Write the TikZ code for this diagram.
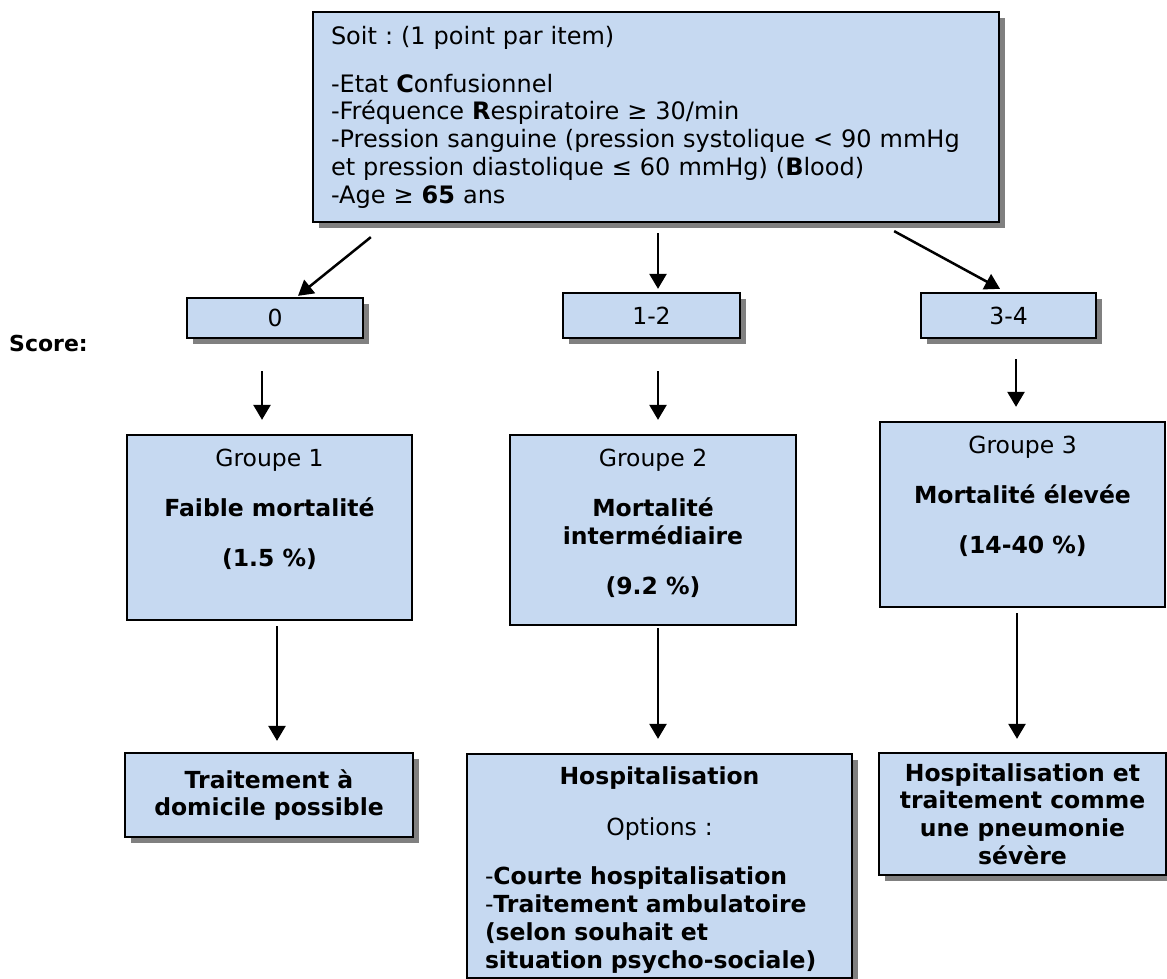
\documentclass[tikz,border=0pt]{standalone}
\usepackage{fontspec}
\setmainfont{DejaVu Sans}
\usepackage{xcolor}
\usepackage{tikz}
\usetikzlibrary{arrows.meta, shadows}
\definecolor{boxblue}{HTML}{C6D9F1}
\definecolor{shadowgray}{HTML}{808080}
\frenchspacing

\begin{document}
\begin{tikzpicture}[x=1pt, y=-1pt,
    every node/.style={font=\fontsize{23.5}{27.7}\selectfont},
    box/.style={draw, fill=boxblue, line width=2.3pt},
    shadowed/.style={drop shadow={shadow xshift=6pt, shadow yshift=-6pt, fill=shadowgray, opacity=1}},
    critbox/.style={box, shadowed, text width=650pt, inner xsep=18pt, inner ysep=0pt, minimum height=210pt, align=left, font=\fontsize{24}{27.7}\selectfont},
    scorebox/.style={box, shadowed, minimum width=176pt, minimum height=45pt},
    groupbox/.style={box, inner sep=0pt},
    outcomebox/.style={box, shadowed, align=center, font=\fontsize{23.5}{27.7}\selectfont\bfseries},
    arr/.style={line width=2.5pt, -{Triangle[length=15pt, width=17pt]}}
]
\useasboundingbox (0,0) rectangle (1167,979);

% criteres CRB-65
\node[critbox] (crit) at (656,117) {
    Soit : (1 point par item)\\[20.3pt]
    -Etat \textbf{C}onfusionnel\\
    -Fréquence \textbf{R}espiratoire ≥ 30/min\\
    -Pression sanguine (pression systolique < 90 mmHg\\
    et pression diastolique ≤ 60 mmHg) (\textbf{B}lood)\\
    -Age ≥ \textbf{65} ans
};

% scores
\node[font=\fontsize{22}{26}\selectfont\bfseries, anchor=west, inner sep=0pt] (scorelbl) at (9,343) {Score:};
\node[scorebox, minimum height=40pt] (s0) at (275,318) {0};
\node[scorebox, minimum width=177pt] (s12) at (651.5,315.5) {1-2};
\node[scorebox, minimum width=175pt] (s34) at (1008.5,315.5) {3-4};

% groupes
\node[groupbox] (g1) at (269.5,527.5) {\parbox[c][185pt][t]{285pt}{\centering\rule{0pt}{31.5pt}Groupe 1\\[22.3pt]
    \textbf{Faible mortalité}\\[22.3pt]\textbf{(1.5 \%)}}};
\node[groupbox] (g2) at (653,530) {\parbox[c][190pt][t]{286pt}{\centering\rule{0pt}{31.5pt}Groupe 2\\[22.3pt]
    \textbf{Mortalité}\\\textbf{intermédiaire}\\[22.3pt]\textbf{(9.2 \%)}}};
\node[groupbox] (g3) at (1022.5,514.5) {\parbox[c][185pt][t]{285pt}{\centering\rule{0pt}{31.5pt}Groupe 3\\[22.3pt]
    \textbf{Mortalité élevée}\\[22.3pt]\textbf{(14-40 \%)}}};

% prise en charge
\node[outcomebox, minimum width=288pt, minimum height=84pt] (b1) at (269,795) {Traitement à\\domicile possible};
\node[box, shadowed, text width=349pt, inner xsep=18pt, minimum height=224pt] (b2) at (659.5,866) {
    \centering\rule{0pt}{26pt}\textbf{Hospitalisation}\\[23.3pt]Options :\par
    \raggedright\vspace{21.3pt}
    -\textbf{Courte hospitalisation}\\
    -\textbf{Traitement ambulatoire}\\
    \textbf{(selon souhait et}\\
    \textbf{situation psycho-sociale)}
};
\node[outcomebox, minimum width=287pt, minimum height=122pt] (b3) at (1022.5,814) {Hospitalisation et\\traitement comme\\une pneumonie\\sévère};

% fleches
\draw[arr] ([xshift=59pt, yshift=-14pt]crit.south west) -- ([xshift=23pt, yshift=1pt]s0.north);
\draw[arr] ([xshift=2pt, yshift=-10pt]crit.south) -- ([xshift=6.5pt, yshift=3pt]s12.north);
\draw[arr] ([xshift=-106pt, yshift=-8pt]crit.south east) -- ([xshift=-8.5pt, yshift=3pt]s34.north);
\draw[arr] ([xshift=-13pt, yshift=-32pt]s0.south) -- ([xshift=-7.5pt, yshift=14pt]g1.north);
\draw[arr] ([xshift=6.5pt, yshift=-32pt]s12.south) -- ([xshift=5pt, yshift=14pt]g2.north);
\draw[arr] ([xshift=7.5pt, yshift=-20pt]s34.south) -- ([xshift=-6.5pt, yshift=14pt]g3.north);
\draw[arr] ([xshift=7.5pt, yshift=-5pt]g1.south) -- ([xshift=8pt, yshift=11pt]b1.north);
\draw[arr] ([xshift=5pt, yshift=-2pt]g2.south) -- ([xshift=-1.5pt, yshift=14pt]b2.north);
\draw[arr] ([xshift=-5.5pt, yshift=-5pt]g3.south) -- ([xshift=-5.5pt, yshift=13pt]b3.north);
\end{tikzpicture}
\end{document}
